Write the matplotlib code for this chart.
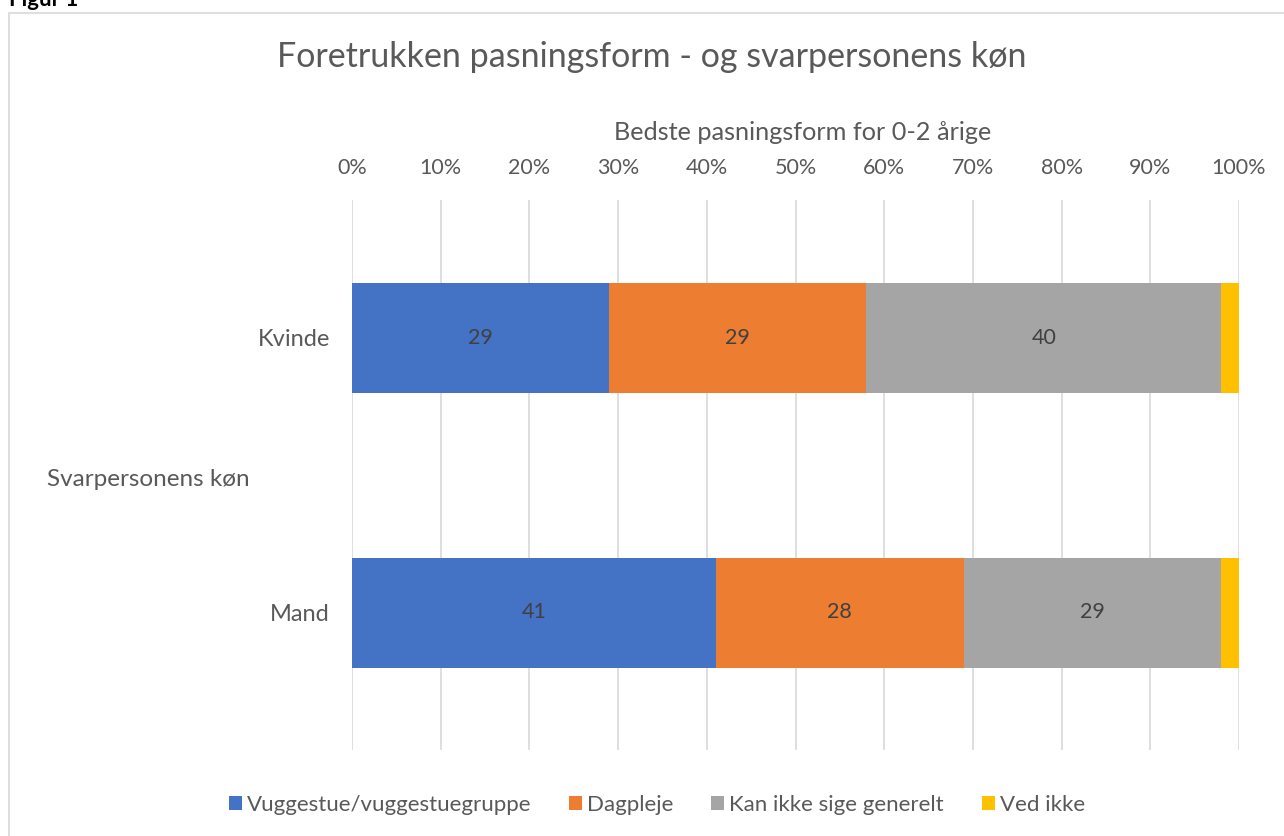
import matplotlib
matplotlib.use("Agg")
import matplotlib.pyplot as plt
from matplotlib.patches import Rectangle, Patch

categories = ["Kvinde", "Mand"]
series_names = ["Vuggestue/vuggestuegruppe", "Dagpleje", "Kan ikke sige generelt", "Ved ikke"]
values = {
    "Vuggestue/vuggestuegruppe": [29, 41],
    "Dagpleje": [29, 28],
    "Kan ikke sige generelt": [40, 29],
    "Ved ikke": [2, 2],
}
colors = ["#4472C4", "#ED7D31", "#A5A5A5", "#FFC000"]
xticks = list(range(0, 101, 10))
xticklabels = [f"{t}%" for t in xticks]

plt.rcParams['font.family'] = ['Lato', 'DejaVu Sans']
W, H = 1284, 836
fig = plt.figure(figsize=(W/100, H/100), dpi=100)

# chart border
fig.patches.append(Rectangle((9/W, -0.01), 1.1, (H-13)/H + 0.01, transform=fig.transFigure,
                             fill=False, edgecolor="#D9D9D9", linewidth=1.2))
fig.text(9/W, 1 - 0/H, "Figur 1", fontsize=16, fontweight="bold", ha="left", va="center", color="black")

left, right = 352/W, 1239/W
top, bottom = 1 - 200/H, 1 - 750/H
ax = fig.add_axes([left, bottom, right-left, top-bottom])

ypos = list(range(len(categories)))
cum = [0]*len(categories)
for name, c in zip(series_names, colors):
    v = values[name]
    ax.barh(ypos, v, left=cum, height=0.4, color=c, zorder=3)
    for i, val in enumerate(v):
        if val >= 5:
            ax.text(cum[i] + val/2, ypos[i], str(val), ha="center", va="center",
                    fontsize=15.5, color="#404040", zorder=4)
    cum = [a+b for a, b in zip(cum, v)]

ax.set_xlim(0, 100)
ax.set_ylim(1.5, -0.5)
ax.set_xticks(xticks)
ax.set_xticklabels(xticklabels)
ax.xaxis.tick_top()
ax.xaxis.set_label_position("top")
ax.set_yticks(ypos)
ax.set_yticklabels(categories)
ax.tick_params(axis="x", length=0, labelsize=15.5, colors="#595959", pad=16)
ax.tick_params(axis="y", length=0, labelsize=17, colors="#595959", pad=16)
ax.grid(axis="x", color="#D9D9D9", linewidth=1.2, zorder=0)
for s in ax.spines.values():
    s.set_visible(False)
ax.set_xlabel("Bedste pasningsform for 0-2 årige", fontsize=18.2, color="#595959", va="center")
ax.xaxis.set_label_coords((802.5 - 352) / 887, 1 + 68 / 550)

fig.text(47/W, 1 - 480/H, "Svarpersonens køn", fontsize=17.5, color="#595959", ha="left", va="center")
fig.text(652/W, 1 - 57/H, "Foretrukken pasningsform - og svarpersonens køn", fontsize=24.5,
         color="#595959", ha="center", va="center")

handles = [Patch(facecolor=c, edgecolor="none") for c in colors]
fig.legend(handles, series_names, loc="center", bbox_to_anchor=(657/W, 1 - 805/H), ncol=4,
           frameon=False, fontsize=16, labelcolor="#595959", handlelength=0.58, handleheight=0.58,
           handletextpad=0.23, columnspacing=1.7)

fig.savefig("out.png", dpi=100)
